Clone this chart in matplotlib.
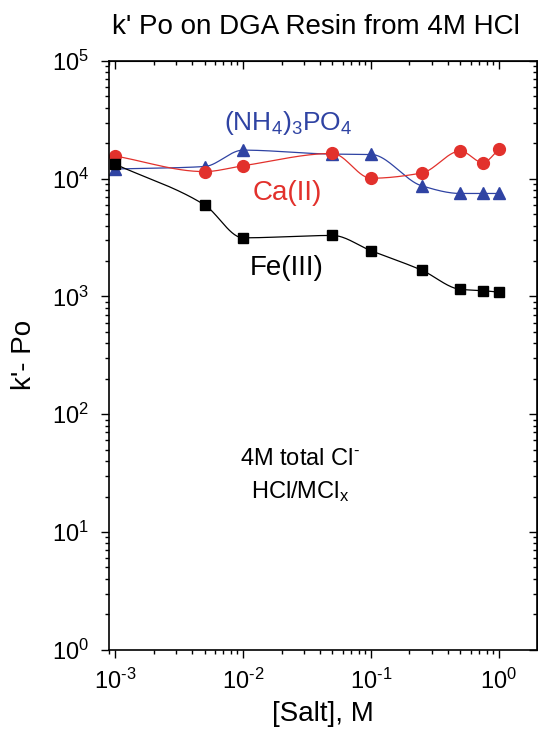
import numpy as np
import matplotlib
matplotlib.use('Agg')
import matplotlib.pyplot as plt
from matplotlib.ticker import LogLocator, NullFormatter, FuncFormatter

plt.rcParams['font.family'] = ['Liberation Sans', 'DejaVu Sans']
plt.rcParams['mathtext.fontset'] = 'custom'
plt.rcParams['mathtext.rm'] = 'Liberation Sans'
plt.rcParams['mathtext.it'] = 'Liberation Sans'
plt.rcParams['mathtext.bf'] = 'Liberation Sans'

# salt concentration, M
salt = [0.001, 0.005, 0.01, 0.05, 0.1, 0.25, 0.5, 0.75, 1.0]
# k' Po values
k_fe = [13300, 6000, 3150, 3300, 2450, 1670, 1150, 1120, 1090]
k_ca = [15600, 11500, 12900, 16400, 10100, 11200, 17200, 13700, 17800]
k_nh4 = [12100, 12700, 17500, 16200, 16100, 8700, 7500, 7500, 7500]

RED = '#e2312c'
BLUE = '#2f43a3'


def smooth(x, y, n=300):
    # monotone cubic (pchip) curve through the points in log-log space
    lx = np.log10(x)
    ly = np.log10(y)
    h = np.diff(lx)
    d = np.diff(ly) / h
    m = np.zeros_like(lx)
    m[0] = d[0]
    m[-1] = d[-1]
    for i in range(1, len(lx) - 1):
        if d[i - 1] * d[i] > 0:
            w1 = 2 * h[i] + h[i - 1]
            w2 = h[i] + 2 * h[i - 1]
            m[i] = (w1 + w2) / (w1 / d[i - 1] + w2 / d[i])
    xs = np.linspace(lx[0], lx[-1], n)
    ys = np.empty_like(xs)
    for k, xv in enumerate(xs):
        i = min(np.searchsorted(lx, xv, side='right') - 1, len(lx) - 2)
        t = (xv - lx[i]) / h[i]
        h00 = 2 * t ** 3 - 3 * t ** 2 + 1
        h10 = t ** 3 - 2 * t ** 2 + t
        h01 = -2 * t ** 3 + 3 * t ** 2
        h11 = t ** 3 - t ** 2
        ys[k] = h00 * ly[i] + h10 * h[i] * m[i] + h01 * ly[i + 1] + h11 * h[i] * m[i + 1]
    return 10 ** xs, 10 ** ys


def pow_label(v, pos):
    e = int(round(np.log10(v)))
    s = str(e).replace('-', r'\text{-}')
    return r'$\mathregular{10^{%s}}$' % s


fig = plt.figure(figsize=(5.38, 7.35), dpi=100)
ax = fig.add_axes([0.202, 0.116, 0.796, 0.801])

for yv, c, mk, ms in [(k_nh4, BLUE, '^', 9), (k_ca, RED, 'o', 8.5), (k_fe, 'black', 's', 7)]:
    sx, sy = smooth(salt, yv)
    ax.plot(sx, sy, '-', color=c, lw=0.9)
    ax.plot(salt, yv, mk, color=c, ms=ms, mec=c)

ax.set_xscale('log')
ax.set_yscale('log')
ax.set_xlim(10 ** -3.05, 10 ** 0.297)
ax.set_ylim(1, 1e5)

for axis in (ax.xaxis, ax.yaxis):
    axis.set_major_locator(LogLocator(base=10, numticks=10))
    axis.set_minor_locator(LogLocator(base=10, subs=np.arange(2, 10), numticks=10))
    axis.set_major_formatter(FuncFormatter(pow_label))
    axis.set_minor_formatter(NullFormatter())

ax.tick_params(which='both', direction='out', top=False, right=False, labelsize=17, color='black')
ax.tick_params(which='major', length=6, width=1)
ax.tick_params(which='minor', length=3, width=1)
ax.tick_params(axis='x', pad=8)
ax.tick_params(axis='y', pad=8)

# inward ticks on the top and right edges
axt = ax.secondary_xaxis('top')
axt.xaxis.set_major_locator(LogLocator(base=10, numticks=10))
axt.xaxis.set_minor_locator(LogLocator(base=10, subs=np.arange(2, 10), numticks=10))
axt.tick_params(which='both', direction='in', labeltop=False)
axt.tick_params(which='major', length=6, width=1)
axt.tick_params(which='minor', length=3, width=1)
axr = ax.secondary_yaxis('right')
axr.yaxis.set_major_locator(LogLocator(base=10, numticks=10))
axr.yaxis.set_minor_locator(LogLocator(base=10, subs=np.arange(2, 10), numticks=10))
axr.tick_params(which='both', direction='in', labelright=False)
axr.tick_params(which='major', length=6, width=1)
axr.tick_params(which='minor', length=3, width=1)

for s in ax.spines.values():
    s.set_linewidth(1.2)

ax.set_xlabel('[Salt], M', fontsize=20, labelpad=5)
ax.set_ylabel("k'- Po", fontsize=20, labelpad=11)
fig.text(0.587, 0.963, "k' Po on DGA Resin from 4M HCl", fontsize=20, ha='center', va='center')

ax.text(0.0225, 30000, r'(NH$_4$)$_3$PO$_4$', color=BLUE, fontsize=19, ha='center', va='center')
ax.text(0.022, 7600, 'Ca(II)', color=RED, fontsize=20, ha='center', va='center')
ax.text(0.022, 1740, 'Fe(III)', color='black', fontsize=20, ha='center', va='center')
ax.text(0.028, 42, r'4M total Cl$^{\text{-}}$', color='black', fontsize=17, ha='center', va='center')
ax.text(0.028, 22, r'HCl/MCl$_\mathregular{x}$', color='black', fontsize=17, ha='center', va='center')

fig.savefig('out.png', dpi=100)
